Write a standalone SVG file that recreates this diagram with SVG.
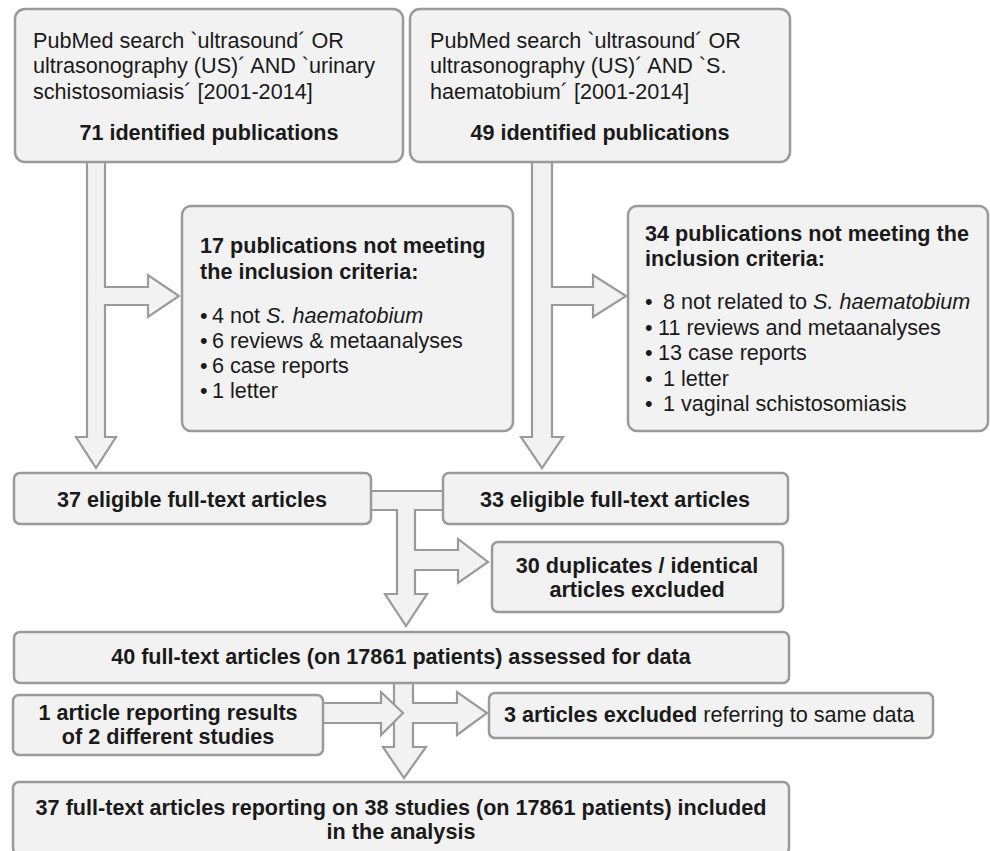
<svg xmlns="http://www.w3.org/2000/svg" width="990" height="851" viewBox="0 0 990 851">
<style>
.box{fill:#f2f2f2;stroke:#9a9a9a;stroke-width:2.5}
.arrow{fill:#f2f2f2;stroke:#9a9a9a;stroke-width:2.2;stroke-linejoin:miter}
text{font-family:"Liberation Sans",Arial,sans-serif;font-size:21.6px;fill:#1a1a1a}
.b{font-weight:bold}
.c{text-anchor:middle}
.i{font-style:italic}
</style>
<rect width="990" height="851" fill="#ffffff"/>
<g id="connectors">
<polygon class="arrow" points="87,160 105,160 105,287 148,287 148,275 179,296 148,317 148,305 105,305 105,437 116,437 96,468 76,437 87,437"/>
<polygon class="arrow" points="532,160 552,160 552,287 593,287 593,275 626,296 593,317 593,305 552,305 552,437 563,437 542,468 521,437 532,437"/>
<polygon class="arrow" points="369,491 445,491 445,510 415,510 415,550 458,550 458,539 488,562 458,583 458,570 415,570 415,594 427,594 406,626 385,594 397,594 397,510 369,510"/>
<polygon class="arrow" points="394,681 413,681 413,703 457,703 457,692 487,713 457,735 457,723 413,723 413,747 426,747 404,778 383,747 394,747"/>
<polygon class="arrow" points="321,703 381,703 381,692 403,713 381,735 381,723 321,723"/>
</g>
<g id="n1">
<rect class="box" x="15" y="9" width="388" height="153" rx="10"/>
<text x="33" y="48">PubMed search `ultrasound´ OR</text>
<text x="33" y="73">ultrasonography (US)´ AND `urinary</text>
<text x="33" y="99">schistosomiasis´ [2001-2014]</text>
<text class="b c" x="209" y="140">71 identified publications</text>
</g>
<g id="n2">
<rect class="box" x="410" y="9" width="380" height="153" rx="10"/>
<text x="430" y="48">PubMed search `ultrasound´ OR</text>
<text x="430" y="73">ultrasonography (US)´ AND `S.</text>
<text x="430" y="99">haematobium´ [2001-2014]</text>
<text class="b c" x="600" y="140">49 identified publications</text>
</g>
<g id="n3">
<rect class="box" x="182" y="206" width="331" height="225" rx="9"/>
<text class="b" x="200" y="253">17 publications not meeting</text>
<text class="b" x="200" y="279">the inclusion criteria:</text>
<text x="200" y="323">•<tspan x="212">4 not </tspan><tspan class="i">S. haematobium</tspan></text>
<text x="200" y="348">•<tspan x="212">6 reviews &amp; metaanalyses</tspan></text>
<text x="200" y="373">•<tspan x="212">6 case reports</tspan></text>
<text x="200" y="398">•<tspan x="212">1 letter</tspan></text>
</g>
<g id="n4">
<rect class="box" x="628" y="206" width="360" height="225" rx="9"/>
<text class="b" x="645" y="241">34 publications not meeting the</text>
<text class="b" x="645" y="266">inclusion criteria:</text>
<text x="645" y="309">•<tspan x="663">8 not related to </tspan><tspan class="i">S. haematobium</tspan></text>
<text x="645" y="335">•<tspan x="658">11 reviews and metaanalyses</tspan></text>
<text x="645" y="360">•<tspan x="658">13 case reports</tspan></text>
<text x="645" y="386">•<tspan x="663">1 letter</tspan></text>
<text x="645" y="411">•<tspan x="663">1 vaginal schistosomiasis</tspan></text>
</g>
<g id="n5">
<rect class="box" x="14" y="473" width="357" height="51" rx="6"/>
<text class="b c" x="192" y="507">37 eligible full-text articles</text>
</g>
<g id="n6">
<rect class="box" x="443" y="473" width="345" height="51" rx="6"/>
<text class="b c" x="615" y="507">33 eligible full-text articles</text>
</g>
<g id="n7">
<rect class="box" x="492" y="542" width="291" height="70" rx="6"/>
<text class="b c" x="637" y="573">30 duplicates / identical</text>
<text class="b c" x="637" y="597">articles excluded</text>
</g>
<g id="n8">
<rect class="box" x="14" y="632" width="775" height="51" rx="6"/>
<text class="b c" x="401" y="664">40 full-text articles (on 17861 patients) assessed for data</text>
</g>
<g id="n9">
<rect class="box" x="13" y="695" width="310" height="60" rx="6"/>
<text class="b c" x="168" y="720">1 article reporting results</text>
<text class="b c" x="168" y="744">of 2 different studies</text>
</g>
<g id="n11">
<rect class="box" x="489" y="693" width="444" height="45" rx="6"/>
<text x="504" y="722"><tspan class="b">3 articles excluded</tspan> referring to same data</text>
</g>
<g id="n10">
<rect class="box" x="13" y="782" width="776" height="72" rx="6"/>
<text class="b c" x="401" y="815">37 full-text articles reporting on 38 studies (on 17861 patients) included</text>
<text class="b c" x="401" y="839">in the analysis</text>
</g>
</svg>
